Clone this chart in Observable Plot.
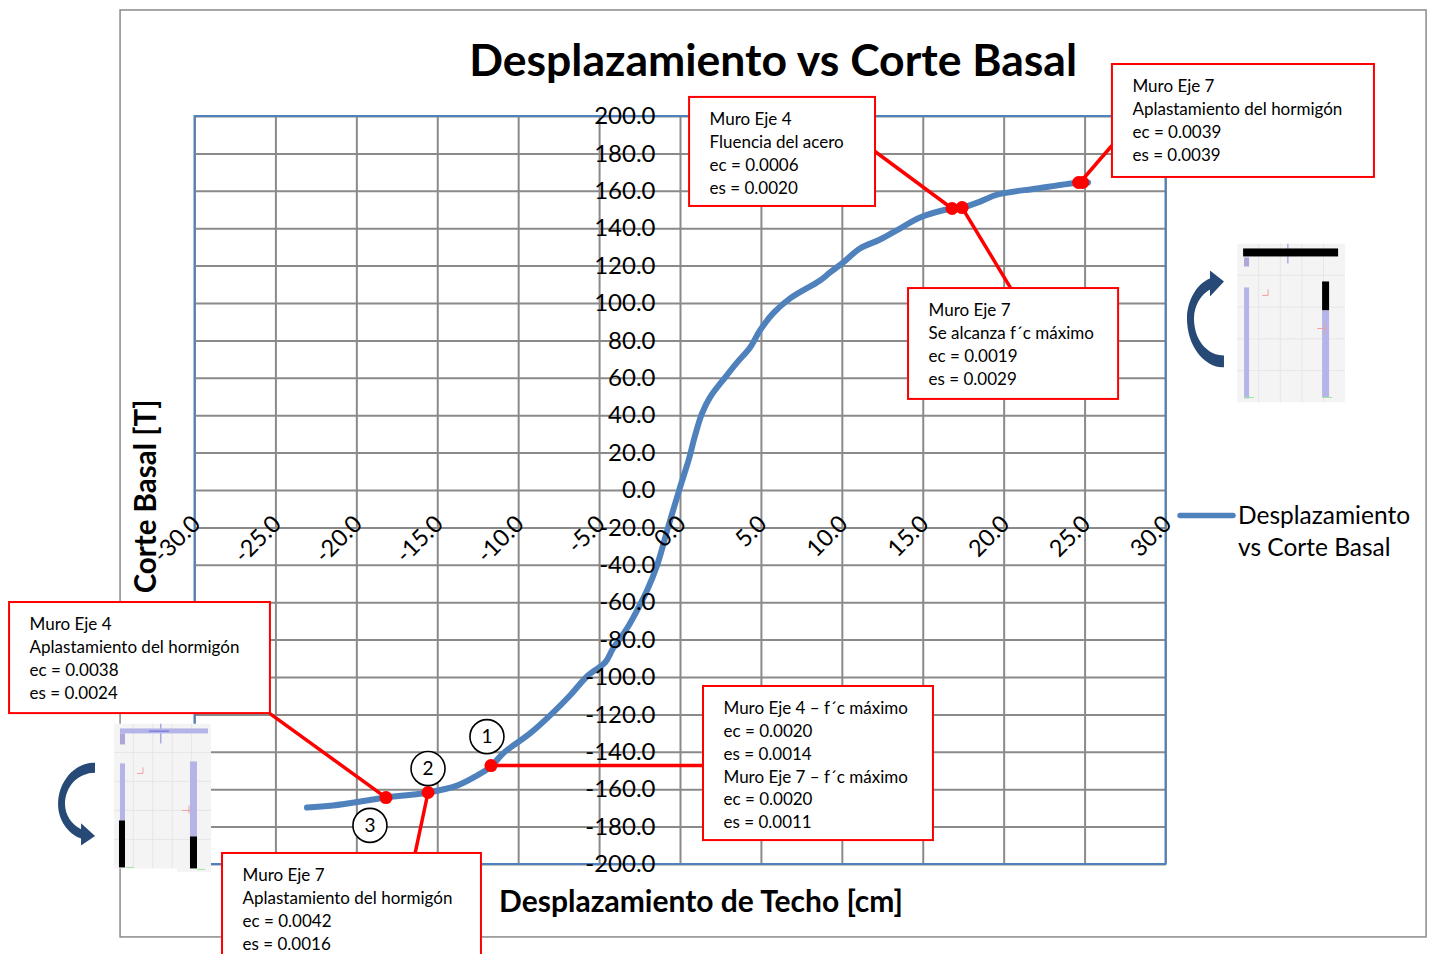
<!DOCTYPE html>
<html lang="es">
<head>
<meta charset="utf-8">
<title>Desplazamiento vs Corte Basal</title>
<style>html,body{margin:0;padding:0;background:#fff;overflow:hidden}svg{display:block}</style>
<script src="https://cdn.jsdelivr.net/npm/d3@7"></script>
<script src="https://cdn.jsdelivr.net/npm/@observablehq/plot@0.6"></script>
</head>
<body>
<div id="chart"></div>
<script>
const chartTitle = "Desplazamiento vs Corte Basal";
const xTitle = "Desplazamiento de Techo [cm]";
const yTitle = "Corte Basal [T]";
const seriesName = "Desplazamiento\nvs Corte Basal";

const xTicks = [-30,-25,-20,-15,-10,-5,0,5,10,15,20,25,30];
const yTicks = [200,180,160,140,120,100,80,60,40,20,0,-20,-40,-60,-80,-100,-120,-140,-160,-180,-200];

const displacement = [-23.08,-21.47,-18.2,-15.6,-13.81,-12.57,-11.71,-10.97,-9.3,-7.94,-6.83,-5.72,-4.66,-4.17,-3.31,-2.69,-2.07,-1.45,-0.77,-0.09,0.53,0.9,1.33,1.82,2.75,3.49,4.3,4.91,5.72,6.77,8.62,9.24,10.04,11.09,12.33,13.56,14.8,16.78,17.4,18.51,19.62,22.03,24.69,25.18];
const baseShear = [-169.5,-168.4,-164.2,-161.5,-157.8,-152.4,-147.6,-140.6,-129.9,-119.3,-109.6,-98.9,-92,-84.5,-73.8,-64.2,-53.5,-40.1,-19.8,0,17.1,29.4,41.2,49.8,60.4,68.4,76.5,85.6,94.7,102.7,112.3,116.6,121.9,129.4,134.2,140.1,146,150.8,151.3,154.5,158.3,161.5,164.7,164.7];

// Events marked on the curve
const eventX = [-18.2,-15.6,-11.71,16.78,17.4,24.6,24.85];
const eventY = [-164.2,-161.5,-147.1,150.8,151.3,164.7,164.7];

// Callouts, in data units
const calloutText = [
  "Muro Eje 4\nFluencia del acero\nec = 0.0006\nes = 0.0020",
  "Muro Eje 7\nAplastamiento del hormigón\nec = 0.0039\nes = 0.0039",
  "Muro Eje 7\nSe alcanza f´c máximo\nec = 0.0019\nes = 0.0029",
  "Muro Eje 4\nAplastamiento del hormigón\nec = 0.0038\nes = 0.0024",
  "Muro Eje 4 – f´c máximo\nec = 0.0020\nes = 0.0014\nMuro Eje 7 – f´c máximo\nec = 0.0020\nes = 0.0011",
  "Muro Eje 7\nAplastamiento del hormigón\nec = 0.0042\nes = 0.0016"
];
const calloutLeft   = [0.53,26.66,14.06,-41.49,1.39,-28.33];
const calloutRight  = [12.02,42.85,27.04,-25.37,15.6,-12.33];
const calloutTop    = [210.2,227.8,108,-59.9,-104.8,-194.1];
const calloutBottom = [151.9,167.4,48.7,-119.3,-187.2,-251.3];
const leaderFromX = [12.02,26.66,20.42,-25.37,1.39,-16.4];
const leaderFromY = [181.3,184.5,108,-119.3,-147.1,-194.1];
const leaderToX   = [16.78,24.69,17.4,-18.2,-11.71,-15.6];
const leaderToY   = [150.8,164.7,151.3,-164.2,-147.1,-161.5];

const stepLabels = ["1","2","3"];
const stepX = [-11.96,-15.6,-19.19];
const stepY = [-131.6,-148.7,-179.1];

// Pictures embedded in the original sheet (wall section and rotation arrow)
const svgUri = (w,h,body) => "data:image/svg+xml," + encodeURIComponent(
  `<svg xmlns="http://www.w3.org/2000/svg" width="${w}" height="${h}" viewBox="0 0 ${w} ${h}"><defs><filter id="b" x="-5%" y="-5%" width="110%" height="110%"><feGaussianBlur stdDeviation="0.45"/></filter></defs><g filter="url(#b)">${body}</g></svg>`);
const wall = (x,y,w,h,c) => `<rect x="${x}" y="${y}" width="${w}" height="${h}" fill="${c}"/>`;
const LAV = "#b4b4e8", BLK = "#000", BG = "#f4f4f4", GL = "#e6e6e6";
const faint = (w,h) => [.2,.4,.6,.8].map(f=>`<path d="M${w*f} 0V${h}M0 ${h*f}H${w}" stroke="${GL}" stroke-width="1"/>`).join("");
const thumbUp = svgUri(108,159,
  wall(0,0,108,159,BG)+faint(108,159)+
  wall(50,0,1.5,20,"#a8a8e8")+wall(6,5,95,8,BLK)+wall(7,14,5,9,"#b0a4d8")+
  wall(7,44,5,111,LAV)+wall(85,38,7,29,BLK)+wall(85,67,7,87,LAV)+
  `<path d="M25 52h6v-6" fill="none" stroke="#f0a0a0"/><path d="M80 85h8M88 80v10" stroke="#f0a0a0"/><path d="M7 154h10M85 154h10" stroke="#9be89b"/>`);
const thumbDown = svgUri(97,149,
  wall(0,0,97,145,BG)+wall(63,34,34,115,BG)+faint(97,145)+
  wall(46,0,1.5,20,"#a8a8e8")+wall(6,5,88,5,LAV)+wall(35,7,20,1.5,"#8080e0")+wall(6,10,5,11,"#b0a4d8")+
  wall(6,40,5,57,LAV)+wall(5,97,6,47,BLK)+wall(76,38,7,75,LAV)+wall(76,113,7,32,BLK)+
  `<path d="M23 50h6v-6" fill="none" stroke="#f0a0a0"/><path d="M68 87h8M75 82v8" stroke="#f0a0a0"/><path d="M12 144h8M83 146h8" stroke="#9be89b"/>`);
const arrowPath = "M37 97 C16 97 0 74 0 48 C0 30 10 13 23 8 L23 0 L37 11 L23 26 L23 19 C14 24 7 35 7 48 C7 69 20 85 37 85 Z";
const arrowUp = svgUri(37,97,`<path d="${arrowPath}" fill="#254a75"/>`);
const arrowDown = svgUri(37,97,`<g transform="translate(0,97) scale(1,-1)"><path d="${arrowPath}" fill="#254a75"/></g>`);
const pictureSrc = [thumbUp,thumbDown,arrowUp,arrowDown];
const pictureX = [37.73,-32.01,32.44,-37.32];
const pictureY = [89.6,-164.4,91.7,-167.6];
const pictureW = [108,97,37,37];
const pictureH = [159,149,97,83];

const GRID = "#8a8a8a", BLUE = "#4f81bd", RED = "#ff0000";
const curve = displacement.map((x,i)=>({x,y:baseShear[i]}));
const callouts = calloutText.map((text,i)=>({text,x1:calloutLeft[i],x2:calloutRight[i],y1:calloutTop[i],y2:calloutBottom[i]}));
const leaders = leaderFromX.map((x1,i)=>({x1,y1:leaderFromY[i],x2:leaderToX[i],y2:leaderToY[i]}));
const events = eventX.map((x,i)=>({x,y:eventY[i]}));
const steps = stepLabels.map((t,i)=>({t,x:stepX[i],y:stepY[i]}));
const pictures = pictureSrc.map((src,i)=>({src,x:pictureX[i],y:pictureY[i],w:pictureW[i],h:pictureH[i]}));

const chart = Plot.plot({
  width:1430, height:954,
  marginLeft:194.5, marginRight:264.5, marginTop:116, marginBottom:90,
  style:{fontFamily:"Lato, sans-serif", background:"#fff", color:"#000", overflow:"visible"},
  x:{domain:[-30,30], axis:null},
  y:{domain:[-200,200], axis:null},
  marks:[
    Plot.rect([0],{x1:-34.63,x2:46.07,y1:256.7,y2:-239,dx:0.5,fill:"#fff",stroke:GRID,strokeWidth:1.5}),
    Plot.ruleX(xTicks,{y1:-200,y2:200,stroke:GRID,strokeWidth:2}),
    Plot.ruleY(yTicks,{x1:-30,x2:30,stroke:GRID,strokeWidth:2}),
    Plot.rect([0],{x1:-30,x2:30,y1:-200,y2:200,fill:"none",stroke:BLUE,strokeWidth:2}),
    Plot.line(curve,{x:"x",y:"y",stroke:BLUE,strokeWidth:6,curve:"catmull-rom",strokeLinecap:"round"}),
    Plot.text(yTicks,{x:0,y:d=>d,text:d=>d.toFixed(1),textAnchor:"end",dx:-25,fontSize:24,fill:"#000"}),
    Plot.text(xTicks,{x:d=>d,y:0,text:d=>d.toFixed(1),textAnchor:"end",rotate:-45,dx:1.5,dy:29.5,fontSize:23.5,fill:"#000"}),
    Plot.link(leaders,{x1:"x1",y1:"y1",x2:"x2",y2:"y2",stroke:RED,strokeWidth:3.5}),
    Plot.dot(events,{x:"x",y:"y",r:6.5,fill:RED}),
    Plot.dot(steps,{x:"x",y:"y",r:17,fill:"#fff",stroke:"#000",strokeWidth:1.6}),
    Plot.text(steps,{x:"x",y:"y",text:"t",fontSize:19,fill:"#000"}),
    Plot.image(pictures,{x:"x",y:"y",width:"w",height:"h",src:"src",preserveAspectRatio:"none"}),
    Plot.rect(callouts,{x1:"x1",x2:"x2",y1:"y1",y2:"y2",dx:0.5,fill:"#fff",stroke:RED,strokeWidth:2}),
    Plot.text(callouts,{x:"x1",y:"y1",text:"text",textAnchor:"start",lineAnchor:"top",dx:20.5,dy:11.7,fontSize:17,lineHeight:1.34,fill:"#000"}),
    Plot.text([chartTitle],{x:5.72,y:229.5,text:d=>d,fontSize:44.5,fontWeight:"bold",fill:"#000"}),
    Plot.text([xTitle],{x:1.27,y:-220.3,text:d=>d,fontSize:30,fontWeight:"bold",fill:"#000"}),
    Plot.text([yTitle],{x:-32.97,y:-3.2,text:d=>d,rotate:-90,fontSize:29.5,fontWeight:"bold",fill:"#000"}),
    Plot.link([0],{x1:30.87,x2:34.14,y1:-13.4,y2:-13.4,stroke:BLUE,strokeWidth:5.5,strokeLinecap:"round"}),
    Plot.text([seriesName],{x:34.45,y:-5.8,text:d=>d,textAnchor:"start",lineAnchor:"top",fontSize:24.5,lineHeight:1.31,fill:"#000"})
  ]
});
document.getElementById("chart").append(chart);
</script>
</body>
</html>
